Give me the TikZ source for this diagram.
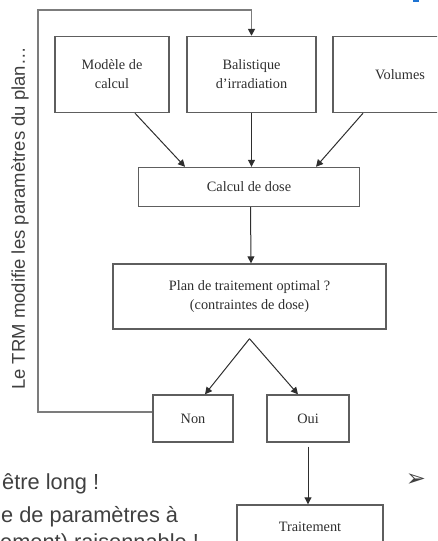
\documentclass[tikz,border=0pt]{standalone}
\usepackage{fontspec}
\setmainfont{Liberation Serif}
\newfontfamily\slidefont{Liberation Sans}
\newfontfamily\dingfont{DejaVu Sans}
\usetikzlibrary{arrows.meta}
\definecolor{boxgray}{HTML}{5E5E5E}
\definecolor{loopgray}{HTML}{7C7C7C}
\definecolor{inkgray}{HTML}{2E2E2E}
\definecolor{slidegray}{HTML}{404040}
\definecolor{slideblue}{HTML}{1E73D2}
\tikzset{
  box/.style={draw=boxgray, line width=1.4pt, text=inkgray, align=center, inner sep=0pt,
    font=\fontsize{14.3}{19}\selectfont},
  flow/.style={-{Triangle[length=7pt,width=7pt]}, draw=inkgray, line width=1pt},
  loopback/.style={-{Triangle[length=7pt,width=7pt,color=inkgray]}, draw=loopgray, line width=1.6pt},
  slidetext/.style={text=slidegray, inner sep=0pt, font=\slidefont\fontsize{21.8}{26}\selectfont}
}
\begin{document}
\begin{tikzpicture}[x=1pt,y=-1pt]
    \useasboundingbox (0,0) rectangle (437,541);
    \clip (0,0) rectangle (437,541);
    \fill[slideblue] (413,0) rectangle (419,2);
    \node[box, minimum width=114pt, minimum height=76pt] (modele) at (112,74.5) {Modèle de\\calcul};
    \node[box, minimum width=129pt, minimum height=76pt] (balistique) at (251.5,74.5) {Balistique\\d'irradiation};
    \node[box, minimum width=134pt, minimum height=76pt] (volumes) at (400,74.5) {Volumes};
    \node[box, minimum width=221pt, minimum height=39pt] (calcul) at (249,187) {Calcul de dose};
    \node[box, minimum width=273pt, minimum height=65pt] (plan) at (249.5,296.5) {Plan de traitement optimal ?\\(contraintes de dose)};
    \node[box, minimum width=80pt, minimum height=47pt] (non) at (193,418.5) {Non};
    \node[box, minimum width=82pt, minimum height=47pt] (oui) at (308,418.5) {Oui};
    \node[box, minimum width=146pt, minimum height=60pt] (traitement) at (310,535) {};
    \node[text=inkgray, font=\fontsize{14.3}{19}\selectfont] (traitlabel) at (310,527) {Traitement};
    \coordinate (fork) at ([yshift=-9pt]plan.south);
    \draw[flow] ([xshift=23pt]modele.south) -- ([xshift=-64pt]calcul.north);
    \draw[flow] (balistique.south) -- (balistique.south |- calcul.north);
    \draw[flow] ([xshift=-37pt]volumes.south) -- ([xshift=67pt]calcul.north);
    \draw[flow] ([xshift=1.5pt]calcul.south) -- ([xshift=1.5pt]plan.north);
    \draw[flow] (fork) -- ([xshift=12pt]non.north);
    \draw[flow] (fork) -- ([xshift=-10pt]oui.north);
    \draw[flow, shorten <=4pt] (oui.south) -- (traitement.north -| oui.south);
    \draw[loopback] ([yshift=6.5pt]non.west) -| (38,10) -| (balistique.north);
    \node[slidetext, rotate=90, font=\slidefont\fontsize{18.5}{22}\selectfont] (trm) at (20,218.5) {Le TRM modifie les paramètres du plan…};
    \node[slidetext, anchor=base west] (line1) at (2,489) {être long !};
    \node[slidetext, anchor=base west] (line2) at (1,522) {e de paramètres à};
    \node[slidetext, anchor=base west] (line3) at (0,549) {ement) raisonnable !};
    \node[text=slidegray, inner sep=0pt, font=\dingfont\fontsize{24}{26}\selectfont] (puce) at (416,480) {➢};
\end{tikzpicture}
\end{document}
